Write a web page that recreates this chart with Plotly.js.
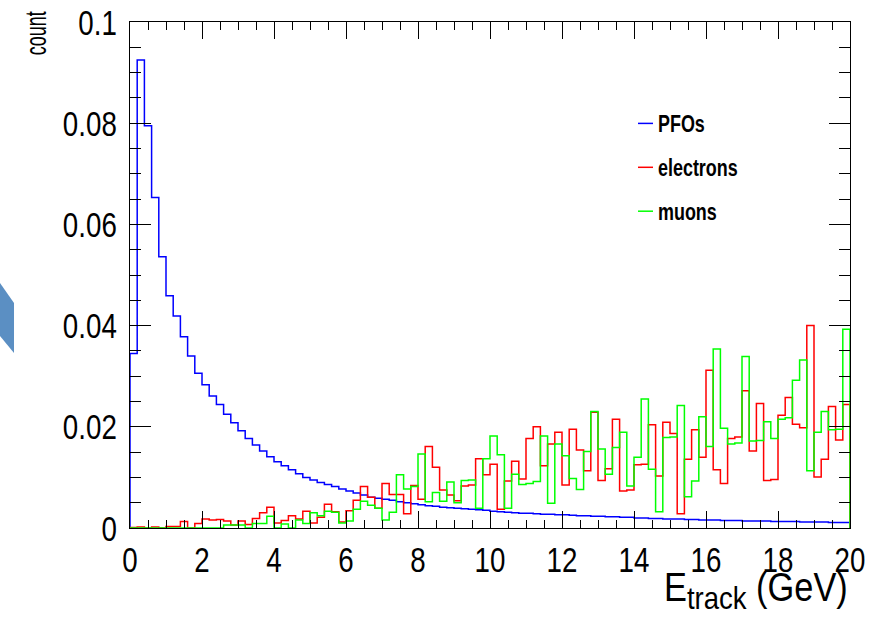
<!DOCTYPE html>
<html><head><meta charset="utf-8">
<script src="https://cdn.plot.ly/plotly-3.0.1.min.js"></script>
<style>html,body{margin:0;padding:0;background:#fff}#chart{width:876px;height:617px}</style>
</head><body><div id="chart"></div>
<script>
// Histogram binning (100 bins, 0-20 GeV)
const binLow = 0;
const binWidth = 0.2;

const pfos = [0.0345,0.0925,0.0795,0.0653,0.0536,0.0459,0.0419,0.0378,0.0340,0.0306,
0.0283,0.0261,0.0244,0.0225,0.0208,0.0192,0.0177,0.0164,0.0152,0.0141,
0.0131,0.0123,0.0115,0.0107,0.0100,0.0095,0.0090,0.0086,0.0082,0.0077,
0.0073,0.0069,0.0065,0.0061,0.0059,0.0057,0.0055,0.0052,0.0050,0.0048,
0.0046,0.0044,0.0043,0.0041,0.0040,0.0039,0.0038,0.0037,0.0036,0.0035,
0.0033,0.0032,0.0031,0.0030,0.0029,0.0029,0.0028,0.0027,0.0027,0.0026,
0.0026,0.0025,0.0024,0.0024,0.0023,0.0023,0.0022,0.0022,0.0021,0.0021,
0.0020,0.0020,0.0019,0.0019,0.0018,0.0018,0.0018,0.0017,0.0017,0.0016,
0.0016,0.0016,0.0015,0.0015,0.0015,0.0014,0.0014,0.0014,0.0014,0.0013,
0.0013,0.0013,0.0013,0.0012,0.0012,0.0012,0.0012,0.0011,0.0011,0.0011];

const electrons = [0.0001,0.0002,0,0.0002,0,0.0003,0.0003,0.0013,0,0.0009,
0.0018,0.0016,0.0017,0.0014,0.0006,0.0014,0.0007,0.0019,0.0030,0.0041,
0.0010,0.0015,0.0024,0.0018,0.0033,0.0010,0.0021,0.0047,0.0032,0.0012,
0.0034,0.0055,0.0082,0.0061,0.0039,0.0088,0.0066,0.0066,0.0028,0.0084,
0.0057,0.0161,0.0120,0.0075,0.0065,0.0054,0.0083,0.0085,0.0137,0.0105,
0.0126,0.0037,0.0093,0.0132,0.0097,0.0177,0.0200,0.0123,0.0166,0.0189,
0.0085,0.0195,0.0154,0.0113,0.0229,0.0094,0.0117,0.0215,0.0073,0.0075,
0.0125,0.0126,0.0204,0.0103,0.0209,0.0187,0.0028,0.0136,0.0194,0.0140,
0.0312,0.0115,0.0088,0.0177,0.0180,0.0271,0.0152,0.0246,0.0094,0.0096,
0.0223,0.0258,0.0205,0.0198,0.0400,0.0101,0.0136,0.0240,0.0174,0.0244];

const muons = [0,0,0,0,0,0,0,0,0,0,
0,0,0,0.0006,0.0006,0.0006,0,0.0009,0.0009,0.0023,
0,0.0008,0,0.0016,0.0009,0.0030,0.0024,0.0033,0.0031,0.0010,
0.0014,0.0037,0.0053,0.0045,0.0039,0.0016,0.0031,0.0105,0.0077,0.0082,
0.0146,0.0052,0.0070,0.0053,0.0091,0.0050,0.0094,0.0095,0.0039,0.0137,
0.0182,0.0145,0.0039,0.0106,0.0086,0.0088,0.0092,0.0182,0.0049,0.0166,
0.0143,0.0098,0.0076,0.0151,0.0230,0.0156,0.0106,0.0159,0.0189,0.0083,
0.0140,0.0255,0.0116,0.0032,0.0179,0.0180,0.0242,0.0062,0.0093,0.0220,
0.0161,0.0354,0.0197,0.0166,0.0168,0.0339,0.0172,0.0173,0.0210,0.0177,
0.0215,0.0218,0.0292,0.0332,0.0113,0.0189,0.0230,0.0194,0.0195,0.0393];

const seriesNames = ["PFOs", "electrons", "muons"];
const seriesColors = ["#0000ff", "#ff0000", "#00ff00"];
const seriesValues = [pfos, electrons, muons];

const xTickLabels = ["0","2","4","6","8","10","12","14","16","18","20"];
const yTickLabels = ["0","0.02","0.04","0.06","0.08","0.1"];

// Build ROOT-style step outline from bin contents
function stepXY(vals) {
  const xs = [binLow], ys = [0];
  vals.forEach((v, i) => { xs.push(binLow + i * binWidth); ys.push(v); });
  const xEnd = binLow + vals.length * binWidth;
  xs.push(xEnd); ys.push(vals[vals.length - 1]);
  xs.push(xEnd); ys.push(0);
  return {xs, ys};
}

const traces = seriesValues.map((vals, k) => {
  const s = stepXY(vals);
  return {
    type: 'scatter', mode: 'lines', x: s.xs, y: s.ys,
    line: {shape: 'hv', color: seriesColors[k], width: 1.5},
    name: seriesNames[k], legendgroup: 'g' + k, cliponaxis: true
  };
});

const fontFam = '"Liberation Sans", Arial, Helvetica, sans-serif';

const layout = {
  width: 876, height: 617,
  margin: {l: 130, r: 26, t: 22, b: 89},
  paper_bgcolor: '#ffffff', plot_bgcolor: '#ffffff',
  font: {family: fontFam, color: '#000'},
  showlegend: true,
  legend: {
    x: 0.6778, y: 0.842, xanchor: 'left', yanchor: 'top',
    bgcolor: 'rgba(0,0,0,0)', borderwidth: 0,
    font: {size: 23, family: fontFam, weight: 'bold', color: '#000'},
    itemwidth: 30, tracegroupgap: 11, traceorder: 'grouped'
  },
  xaxis: {
    range: [0, 20], tickmode: 'array',
    tickvals: xTickLabels.map(Number), ticktext: xTickLabels,
    ticks: 'inside', ticklen: 17, tickwidth: 1, tickcolor: '#000',
    showgrid: false, zeroline: false, showline: true, linecolor: '#000', linewidth: 1,
    mirror: 'ticks', tickfont: {size: 36, family: fontFam},
    minor: {dtick: 0.5, tick0: 0, ticks: 'inside', ticklen: 8, tickcolor: '#000', showgrid: false},
    fixedrange: true
  },
  yaxis: {
    range: [0, 0.1], tickmode: 'array',
    tickvals: yTickLabels.map(Number), ticktext: yTickLabels,
    ticks: 'inside', ticklen: 21, tickwidth: 1, tickcolor: '#000',
    showgrid: false, zeroline: false, showline: true, linecolor: '#000', linewidth: 1,
    mirror: 'ticks', tickfont: {size: 36, family: fontFam}, ticklabelstandoff: 5,
    minor: {dtick: 0.005, tick0: 0, ticks: 'inside', ticklen: 11, tickcolor: '#000', showgrid: false},
    fixedrange: true
  },
  annotations: [
    {text: 'E<sub><span style="font-size:32px">track</span></sub> (GeV)', xref: 'paper', yref: 'paper', x: 1, y: 0,
     xanchor: 'right', yanchor: 'top', yshift: -35, showarrow: false,
     font: {size: 40, family: fontFam, color: '#000'}},
    {text: 'count', xref: 'paper', yref: 'paper', x: -0.1306, y: 1.0257,
     xanchor: 'center', yanchor: 'top', textangle: -90, showarrow: false,
     font: {size: 30, family: fontFam, color: '#000'}}
  ],
  shapes: [
    {type: 'path', xref: 'paper', yref: 'paper', layer: 'below',
     path: 'M -0.1806 0.4842 L -0.1611 0.4447 L -0.1611 0.3458 L -0.1806 0.3794 Z',
     fillcolor: '#5b8fc3', line: {width: 0}}
  ]
};

// Narrow (condensed) text like the ROOT rendering: scale glyphs along the text direction
function condense(nodes, f, mode) {
  nodes.forEach(t => {
    const bb = t.getBBox();
    const ax = mode === 'right' ? bb.x + bb.width : (mode === 'left' ? bb.x : bb.x + bb.width / 2);
    const prev = t.getAttribute('transform') || '';
    t.setAttribute('transform', prev + ' translate(' + ax + ',0) scale(' + f + ',1) translate(' + (-ax) + ',0)');
  });
}

Plotly.newPlot('chart', traces, layout, {displayModeBar: false, staticPlot: true}).then(gd => {
  condense(gd.querySelectorAll('.xtick text'), 0.77, 'center');
  condense(gd.querySelectorAll('.ytick text'), 0.77, 'right');
  condense(gd.querySelectorAll('.legend text.legendtext'), 0.78, 'left');
  const ann = gd.querySelectorAll('.annotation-text');
  if (ann[0]) condense([ann[0]], 0.86, 'right');
  if (ann[1]) condense([ann[1]], 0.6, 'right');
  gd.querySelectorAll('.legend .legendlines path').forEach(p => p.setAttribute('d', 'M20,0h15'));
});
</script>
</body></html>
